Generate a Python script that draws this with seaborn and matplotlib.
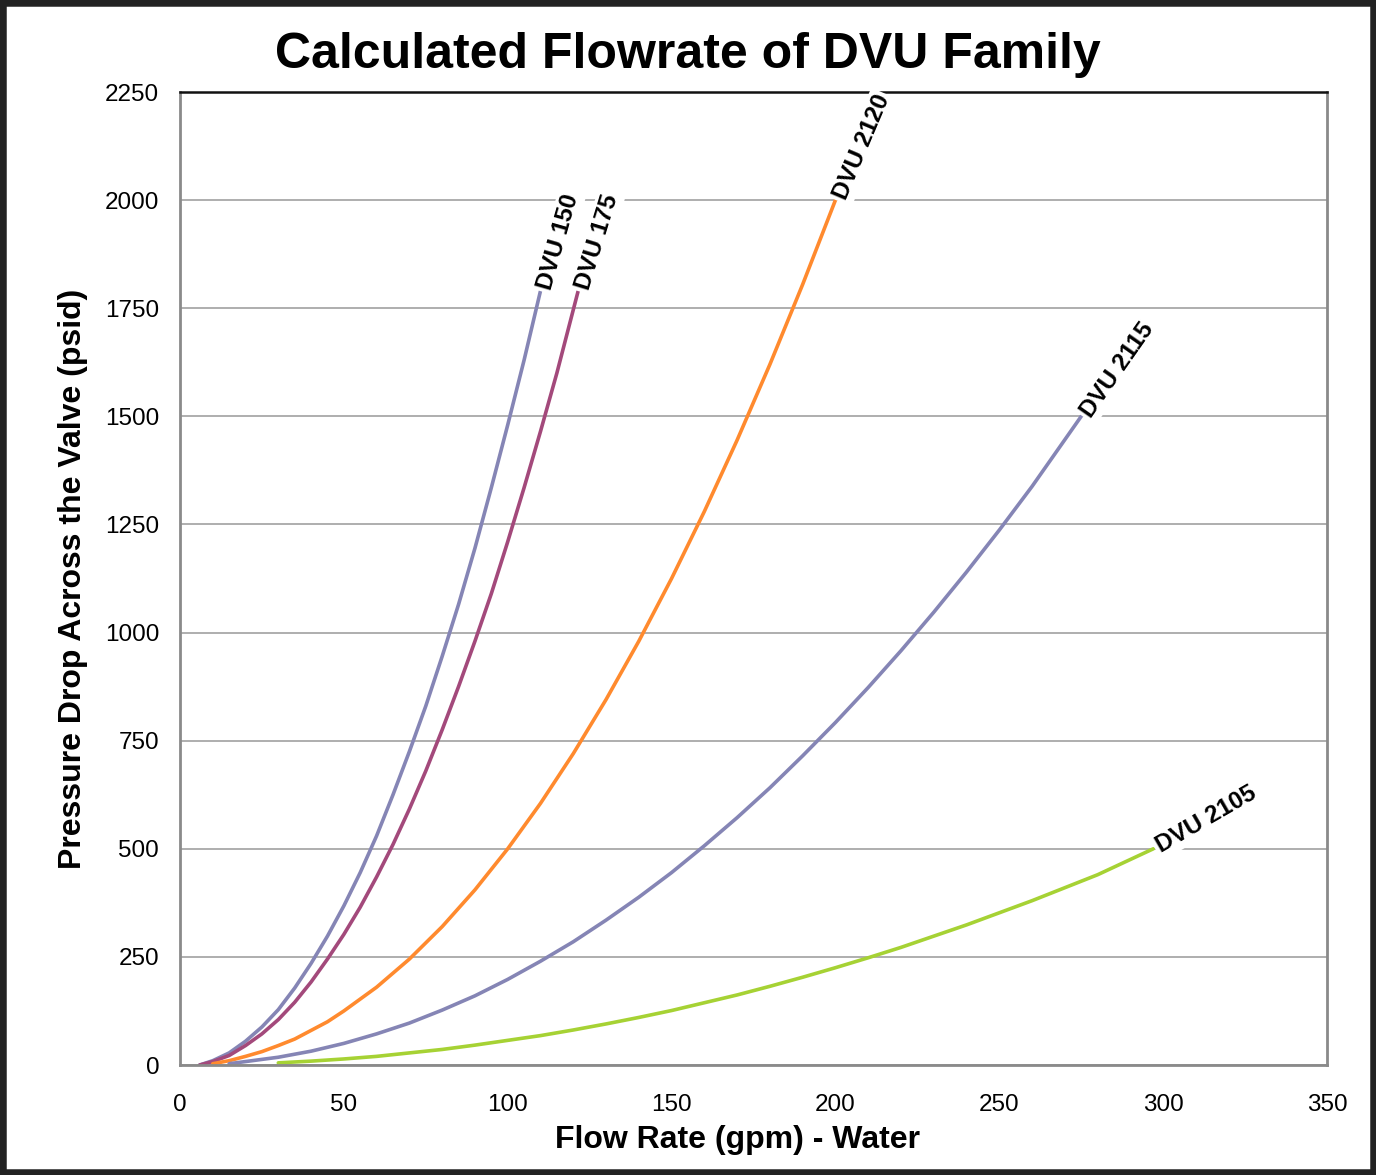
import numpy as np
import pandas as pd
import matplotlib
matplotlib.use("Agg")
import matplotlib.pyplot as plt
from matplotlib.patches import Rectangle
from matplotlib.ticker import MultipleLocator
import seaborn as sns

# flow (gpm) and pressure drop (psid)
dvu150_q = [6, 10, 15, 20, 25, 30, 35, 40, 45, 50, 55, 60, 65, 70, 75, 80, 85, 90, 95, 100, 105, 110]
dvu150_p = [0, 10, 28, 55, 88, 128, 178, 235, 298, 368, 445, 530, 625, 725, 830, 945, 1065, 1195, 1335,
            1480, 1630, 1790]

dvu175_q = [6, 10, 15, 20, 25, 30, 35, 40, 45, 50, 55, 60, 65, 70, 75, 80, 85, 90, 95, 100, 105, 110,
            115, 121.5]
dvu175_p = [0, 8, 22, 45, 72, 105, 145, 192, 245, 302, 365, 435, 510, 592, 680, 775, 875, 980, 1090,
            1210, 1335, 1465, 1600, 1790]

dvu2120_q = [10, 15, 20, 25, 30, 35, 40, 45, 50, 60, 70, 80, 90, 100, 110, 120, 130, 140, 150, 160,
             170, 180, 190, 200]
dvu2120_p = [3, 10, 20, 31, 45, 60, 80, 100, 125, 180, 245, 320, 405, 500, 605, 720, 845, 980, 1125,
             1280, 1445, 1620, 1805, 2000]

dvu2115_q = [15, 20, 30, 40, 50, 60, 70, 80, 90, 100, 110, 120, 130, 140, 150, 160, 170, 180, 190, 200,
             210, 220, 230, 240, 250, 260, 275]
dvu2115_p = [3, 8, 18, 32, 50, 72, 97, 127, 160, 198, 240, 285, 335, 388, 445, 507, 572, 641, 715, 792,
             873, 958, 1047, 1140, 1237, 1338, 1500]

dvu2105_q = [30, 40, 50, 60, 70, 80, 90, 100, 110, 120, 130, 140, 150, 160, 170, 180, 190, 200, 210,
             220, 230, 240, 250, 260, 270, 280, 297]
dvu2105_p = [5, 9, 14, 20, 28, 36, 46, 57, 68, 81, 95, 110, 126, 144, 162, 182, 203, 225, 248, 272,
             298, 324, 352, 380, 410, 440, 500]

names = ["DVU 150", "DVU 175", "DVU 2120", "DVU 2115", "DVU 2105"]
colors = ["#8585b5", "#a3497b", "#ff8a2e", "#8585b5", "#a6d234"]
label_angles = [74, 73, 67, 55, 30]

series = [(dvu150_q, dvu150_p), (dvu175_q, dvu175_p), (dvu2120_q, dvu2120_p),
          (dvu2115_q, dvu2115_p), (dvu2105_q, dvu2105_p)]

frames = []
for name, (q, p) in zip(names, series):
    frames.append(pd.DataFrame({"flow": q, "psid": p, "valve": name}))
df = pd.concat(frames, ignore_index=True)

sns.set_style("white")
plt.rcParams["font.family"] = ["Liberation Sans", "DejaVu Sans"]
plt.rcParams["text.color"] = "black"
plt.rcParams["axes.labelcolor"] = "black"
plt.rcParams["xtick.labelcolor"] = "black"
plt.rcParams["ytick.labelcolor"] = "black"

fig = plt.figure(figsize=(13.76, 11.75), dpi=100)
ax = fig.add_axes([0.1308, 0.0936, 0.8336, 0.8281])

sns.lineplot(data=df, x="flow", y="psid", hue="valve", palette=dict(zip(names, colors)),
             legend=False, sort=False, estimator=None, linewidth=2.6, ax=ax)

ax.set_xlim(0, 350)
ax.set_ylim(0, 2250)
ax.xaxis.set_major_locator(MultipleLocator(50))
ax.xaxis.set_minor_locator(MultipleLocator(10))
ax.yaxis.set_major_locator(MultipleLocator(250))
ax.yaxis.set_minor_locator(MultipleLocator(50))
ax.grid(axis="y", which="major", color="#a8a8a8", linewidth=1.3)
ax.set_axisbelow(True)

ax.tick_params(axis="both", which="major", direction="inout", length=10, width=1.3,
               color="#8a8a8a", labelsize=17.5)
ax.tick_params(axis="both", which="minor", direction="inout", length=8, width=1.1,
               color="#8a8a8a")
ax.tick_params(axis="x", which="major", pad=16)
ax.tick_params(axis="y", which="major", pad=10)

for side in ["left", "bottom", "right"]:
    ax.spines[side].set_color("#8a8a8a")
    ax.spines[side].set_linewidth(2)
ax.spines["top"].set_color("#111111")
ax.spines["top"].set_linewidth(1.8)

ax.set_xlabel("Flow Rate (gpm) - Water", fontsize=23, fontweight="bold", labelpad=6)
ax.xaxis.set_label_coords(0.486, -0.062)
ax.set_ylabel("Pressure Drop Across the Valve (psid)", fontsize=23, fontweight="bold", labelpad=12)

for name, (q, p), ang in zip(names, series, label_angles):
    ax.annotate(name, (q[-1], p[-1]), xytext=(3, 1), textcoords="offset points",
                rotation=ang, rotation_mode="anchor", ha="left", va="center",
                fontsize=17.5, fontweight="bold", color="black",
                bbox=dict(facecolor="white", edgecolor="none", pad=2), zorder=5)

fig.suptitle("Calculated Flowrate of DVU Family", fontsize=36, fontweight="bold", y=0.973)

fig.patches.append(Rectangle((0.0, 0.0), 1.0, 1.0, transform=fig.transFigure,
                             fill=False, edgecolor="#222222", linewidth=9))

fig.savefig("out.png", dpi=100)
